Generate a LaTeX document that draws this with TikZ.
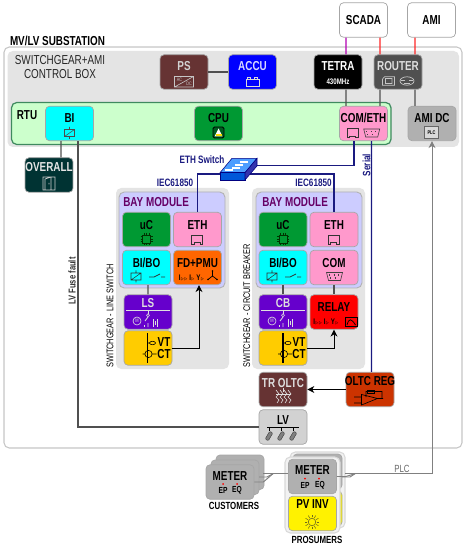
\documentclass[tikz,border=0pt]{standalone}
\usepackage{fontspec}
\setmainfont{Liberation Sans}[FakeStretch=0.76]
\usepackage{xcolor}
\usetikzlibrary{arrows.meta, calc}

\definecolor{boxgrey}{HTML}{E4E4E4}
\definecolor{rtugreen}{HTML}{CCFFCC}
\definecolor{rtuedge}{HTML}{3F8A5F}
\definecolor{cpugreen}{HTML}{009933}
\definecolor{comink}{HTML}{FF99CC}
\definecolor{binaqua}{HTML}{00FFFF}
\definecolor{psbrown}{HTML}{663333}
\definecolor{routerdark}{HTML}{505050}
\definecolor{amigrey}{HTML}{B0B0B0}
\definecolor{overallteal}{HTML}{003333}
\definecolor{baylilac}{HTML}{CCCCFF}
\definecolor{baytitle}{HTML}{660066}
\definecolor{pmuorange}{HTML}{FF6600}
\definecolor{lsviolet}{HTML}{6600CC}
\definecolor{vtyellow}{HTML}{FFCC00}
\definecolor{oltcred}{HTML}{CC3300}
\definecolor{lvgrey}{HTML}{D2D2D2}
\definecolor{netblue}{HTML}{1A1A80}
\newcommand{\trig}{\scalebox{.55}{$\triangleright$}}

\begin{document}
\begin{tikzpicture}[
    x=0.02cm, y=-0.02cm,
    font=\fontsize{7.4}{8.4}\selectfont,
    mod/.style={draw=gray!70, line width=.4pt, rounded corners=2.3pt, minimum width=.96cm, minimum height=.69cm, inner sep=0pt},
    ttl/.style={font=\fontsize{7.4}{8.4}\selectfont\bfseries, inner sep=0pt},
    tiny/.style={font=\fontsize{4.6}{5}\selectfont\bfseries, inner sep=0pt},
    side/.style={font=\fontsize{5.5}{6}\selectfont, inner sep=0pt, rotate=90},
    net/.style={font=\fontsize{6.1}{6}\selectfont\bfseries, inner sep=0pt, text=netblue},
    wire/.style={draw=routerdark, line width=.75pt},
    buswire/.style={draw=netblue, line width=.6pt},
    sensor/.style={draw=black, line width=.5pt, -{Stealth[length=4pt,width=4pt]}},
    plcwire/.style={draw=gray, line width=.55pt},
    pics/relayicon/.style={code={
        \draw[#1, line width=.3pt] (-5,-3.5) rectangle (5,3.5) (-5,3.5) -- (5,-3.5) (0,-6) -- (0,-3.5) (0,3.5) -- (0,6);
    }},
    pics/contacticon/.style={code={
        \draw[#1, line width=.4pt] (-8,1) -- (-3,1) -- (3,-2) (4,1) -- (8,1);
    }},
    pics/rjicon/.style={code={
        \draw[#1, line width=.4pt] (-5.5,-4.5) -- (5.5,-4.5) -- (5.5,4.5) -- (3,4.5) -- (3,3) -- (-3,3) -- (-3,4.5) -- (-5.5,4.5) -- cycle;
    }},
    pics/dbicon/.style={code={
        \draw[#1, line width=.35pt] (-8,-4) -- (8,-4) -- (6,4) -- (-6,4) -- cycle;
        \draw[#1, line width=.6pt, dotted] (-5.5,-1.5) -- (5.5,-1.5) (-4.5,1.5) -- (4.5,1.5);
    }},
    pics/chipicon/.style={code={
        \draw[#1, line width=.35pt] (-4,-4) rectangle (4,4);
        \foreach \p in {-2.5,0,2.5} {
            \draw[#1, line width=.25pt] (\p,-6) -- (\p,-4) (\p,4) -- (\p,6) (-6,\p) -- (-4,\p) (4,\p) -- (6,\p);
        }
    }},
    pics/bayicon/.style={code={
        \draw[#1, line width=.4pt] (-22,-2) -- (22,-2);
        \draw[#1, line width=.5pt] (0,-2) -- (0,2);
        \draw[#1, line width=.3pt] (0,3.2) circle (1.5);
        \draw[#1, line width=.5pt] (0,5) -- (-3,9) (0,11) -- (0,15);
        \draw[#1, line width=.5pt] (-4,13) -- (-4,15) (5,7) -- (5,15) (9,7) -- (9,15) (7,9) -- (7,13);
        \draw[#1, line width=.35pt] (-11,9) circle (4);
        \node[#1, font=\fontsize{3}{3}\selectfont, inner sep=0pt] (-m) at (-11,9) {M};
    }},
    pics/ctblock/.style={code={
        \draw[black, line width=.6pt] (0,-15) -- (0,15);
        \draw[black, line width=.35pt] (0,-5) -- (2,-5) (5,-5) ellipse (3 and 1.7);
        \draw[black, line width=.35pt] (-5,6) -- (-3,6) (1,6) circle (3.6) (4.6,6) -- (9,6);
    }},
    pics/lvfuse/.style={code={
        \draw[black, line width=.3pt] (0,-9) -- (0,-5);
        \draw[black!70, fill=gray, line width=.3pt, rounded corners=.6pt, rotate=-30] (-1.8,-4.5) rectangle (1.8,4.5);
    }},
    pics/meterdots/.style={code={
        \fill[red] (-7,0) circle (1) (7,0) circle (1);
    }},
]
\useasboundingbox (0,0) rectangle (467,546);

% substation frame and control box
\draw[draw=gray!45, fill=white, line width=.6pt, rounded corners=3pt] (4,47) rectangle (462,448);
\fill[boxgrey, rounded corners=3pt] (7.5,51) rectangle (459,147);
\node[ttl] (subtitle) at (57.5,41) {MV/LV SUBSTATION};
\node[ttl, font=\fontsize{7.4}{8}\selectfont, align=center, text=black!85] (boxtitle) at (60,67) {SWITCHGEAR+AMI\\CONTROL BOX};
\draw[rtuedge, fill=rtugreen, line width=.7pt, rounded corners=3pt] (11.5,102.5) rectangle (391,144.5);
\node[ttl] (rtulbl) at (27,115) {RTU};

% bay frames
\fill[boxgrey, rounded corners=3pt] (116,188) rectangle (229,369);
\fill[boxgrey, rounded corners=3pt] (252,188) rectangle (365,369);
\draw[gray!60, fill=baylilac, line width=.5pt, rounded corners=3pt] (119,192) rectangle (225,288);
\draw[gray!60, fill=baylilac, line width=.5pt, rounded corners=3pt] (256,192) rectangle (362,288);

% control box modules
\node[mod, fill=psbrown] (ps) at (184,72) {};
\node[mod, fill=blue] (accu) at (252.5,72) {};
\node[mod, fill=black] (tetra) at (338,72) {};
\node[mod, fill=routerdark] (router) at (398,72) {};
\node[mod, fill=white] (scada) at (363.5,20) {};
\node[mod, fill=white] (ami) at (431.5,20) {};
\node[mod, fill=binaqua] (bi) at (69.5,123.5) {};
\node[mod, fill=cpugreen] (cpu) at (218.5,123.5) {};
\node[mod, fill=comink] (cometh) at (363.5,123.5) {};
\node[mod, fill=amigrey] (amidc) at (432,123.5) {};
\node[mod, fill=overallteal] (overall) at (49,175) {};

% left bay
\node[mod, fill=cpugreen] (ucA) at (146.5,229.5) {};
\node[mod, fill=comink] (ethA) at (197.5,229.5) {};
\node[mod, fill=binaqua] (bioA) at (146.5,267.5) {};
\node[mod, fill=pmuorange] (pmu) at (197.5,267.5) {};
\node[mod, fill=lsviolet] (ls) at (148,312) {};
\node[mod, fill=vtyellow] (vtA) at (148,348) {};

% right bay
\node[mod, fill=cpugreen] (ucB) at (283,229.5) {};
\node[mod, fill=comink] (ethB) at (334,229.5) {};
\node[mod, fill=binaqua] (bioB) at (283,267.5) {};
\node[mod, fill=comink] (comB) at (334,267.5) {};
\node[mod, fill=lsviolet] (cb) at (283,312) {};
\node[mod, fill=red] (relay) at (334,312) {};
\node[mod, fill=vtyellow] (vtB) at (283,348) {};

% transformer row
\node[mod, fill=psbrown] (tr) at (283,389.5) {};
\node[mod, fill=oltcred] (reg) at (370,389.5) {};
\node[mod, fill=lvgrey] (lv) at (283,427) {};

% field devices
\foreach \o in {10,5} {
    \draw[gray!70, fill=amigrey, line width=.4pt, rounded corners=2.3pt] (206+\o,465-\o) rectangle (254+\o,499.5-\o);
}
\node[mod, fill=amigrey] (custm) at (230,482) {};
\draw[gray!30, fill=gray!10, line width=.6pt, rounded corners=3pt] (290,452) rectangle (345,528);
\draw[gray!70, fill=amigrey, line width=.4pt, rounded corners=2.3pt] (293,454) rectangle (342,489);
\draw[gray!70, fill=yellow, line width=.4pt, rounded corners=2.3pt] (293,491) rectangle (342,526);
\draw[gray!30, fill=gray!10, line width=.6pt, rounded corners=3pt] (285,457) rectangle (340,533);
\node[mod, fill=amigrey] (prosm) at (312.5,476.5) {};
\node[mod, fill=yellow] (pvinv) at (312.5,513.5) {};

% ethernet switch corners
\coordinate (swleft) at (220,174);
\coordinate (swmid) at (250,174);
\coordinate (swtop) at (257,165.5);

% connectors
\draw[wire] (ps) -- (accu);
\draw[draw=violet!60!magenta, line width=.6pt] ([xshift=-.35cm]scada.south) -- ([xshift=.16cm]tetra.north);
\draw[draw=red!85, line width=.6pt] ([xshift=.33cm]scada.south) -- ([xshift=-.36cm]router.north);
\draw[draw=red!85, line width=.6pt] ([xshift=-.33cm]ami.south) -- ([xshift=.34cm]router.north);
\draw[wire] ([xshift=.16cm]tetra.south) -- ([xshift=-.35cm]cometh.north);
\draw[wire] ([xshift=-.36cm]router.south) -- ([xshift=.33cm]cometh.north);
\draw[wire] ([xshift=.34cm]router.south) -- ([xshift=-.34cm]amidc.north);
\draw[wire] ([xshift=-.17cm]bi.south) -- ([xshift=.24cm]overall.north);
\draw[wire] ([xshift=.17cm]bi.south) |- (lv.west);
\draw[buswire] ([xshift=-.19cm]cometh.south) |- (swtop);
\draw[buswire] ([xshift=.16cm]cometh.south) -- ([xshift=.03cm]reg.north);
\draw[buswire] (ethA.north) |- (swleft);
\draw[buswire] (ethB.north) |- (swmid);
\draw[wire] ([xshift=.03cm]bioA.south) -- (ls.north);
\draw[wire] (bioB.south) -- (cb.north);
\draw[wire] (comB.south) -- (relay.north);
\draw[sensor] (vtA.east) -| ([xshift=.03cm]pmu.south);
\draw[sensor] (vtB.east) -| (relay.south);
\draw[sensor] (reg.west) -- (tr.east);

% plc fan out
\draw[plcwire] (custm.east) -- ++(9,0) -- (273,473.7);
\draw[plcwire] (259,477) -- (267,477) -- (273,473.7);
\draw[plcwire] (263,473.7) -- (prosm.west |- 0,473.7);
\draw[plcwire] (prosm.east) -- ++(9,0) -- (355,473.7);
\draw[plcwire] (342,477) -- (350,477) -- (355,473.7);
\draw[plcwire, -{Stealth[length=4pt,width=4pt]}] (345,473.7) -| (amidc.south);

% switch body
\filldraw[draw=blue!50!black, fill=blue!55!cyan!70, line width=.3pt] (220,172.7) -- (232,158.3) -- (257,158.3) -- (245,172.7) -- cycle;
\filldraw[draw=blue!50!black, fill=blue!60!cyan!85!black, line width=.3pt] (220,172.7) rectangle (245,180);
\filldraw[draw=blue!50!black, fill=blue!60!black!80, line width=.3pt] (245,172.7) -- (257,158.3) -- (257,166) -- (245,180) -- cycle;
\draw[white, line width=.6pt] (232,168) -- (240,168) (240,162) -- (248,162) (225,170) -- (233,170) (235,165) -- (243,165);

% module titles
\node[ttl, text=gray!35] (pst) at (184,66.5) {PS};
\node[ttl, text=white!85!blue] (accut) at (252.5,66.5) {ACCU};
\node[ttl, text=white] (tetrat) at (338,66.5) {TETRA};
\node[tiny, text=white] (tetraf) at (338,81.5) {430MHz};
\node[ttl, text=gray!25] (routert) at (398,66.5) {ROUTER};
\node[ttl] (scadat) at (363.5,20) {SCADA};
\node[ttl] (amit) at (431.5,20) {AMI};
\node[ttl] (bit) at (69.5,118) {BI};
\node[ttl] (cput) at (218.5,118) {CPU};
\node[ttl] (comethT) at (363.5,118) {COM/ETH};
\node[ttl] (amidct) at (432,118) {AMI DC};
\node[ttl, text=gray!20] (overallt) at (49,167) {OVERALL};
\node[ttl, text=baytitle, anchor=west] (bayA) at (123,202) {BAY MODULE};
\node[ttl, text=baytitle, anchor=west] (bayB) at (262,202) {BAY MODULE};
\node[ttl] (ucAt) at (146.5,225) {uC};
\node[ttl] (ethAt) at (197.5,225) {ETH};
\node[ttl] (bioAt) at (146.5,263) {BI/BO};
\node[ttl] (pmut) at (197.5,263) {FD+PMU};
\node[ttl, text=gray!25] (lst) at (148,303) {LS};
\node[ttl] (vtAv) at (164,342.5) {VT};
\node[ttl] (vtAc) at (164,354.5) {CT};
\node[ttl] (ucBt) at (283,225) {uC};
\node[ttl] (ethBt) at (334,225) {ETH};
\node[ttl] (bioBt) at (283,263) {BI/BO};
\node[ttl] (comBt) at (334,263) {COM};
\node[ttl, text=gray!25] (cbt) at (283,303) {CB};
\node[ttl] (relayt) at (334,307) {RELAY};
\node[ttl] (vtBv) at (299,342.5) {VT};
\node[ttl] (vtBc) at (299,354.5) {CT};
\node[ttl, text=gray!25] (trt) at (283,383) {TR OLTC};
\node[ttl] (regt) at (370,381) {OLTC REG};
\node[ttl] (lvt) at (283,420.5) {LV};
\node[ttl] (custt) at (230,476) {METER};
\node[ttl] (prost) at (312.5,470) {METER};
\node[ttl] (pvt) at (312.5,504) {PV INV};
\node[tiny, font=\fontsize{5}{5}\selectfont\bfseries] (custep) at (223,490) {EP};
\node[tiny, font=\fontsize{5}{5}\selectfont\bfseries] (custeq) at (237,490) {EQ};
\node[tiny, font=\fontsize{5}{5}\selectfont\bfseries] (prosep) at (305,485) {EP};
\node[tiny, font=\fontsize{5}{5}\selectfont\bfseries] (proseq) at (320,485) {EQ};
\node[tiny, font=\fontsize{5.9}{6}\selectfont\bfseries] (custlbl) at (234,506) {CUSTOMERS};
\node[tiny, font=\fontsize{5.9}{6}\selectfont\bfseries] (proslbl) at (317,540) {PROSUMERS};
\node[tiny] (pmuprot) at (191.5,277.5) {I\trig\trig\ I\trig\ Y\trig};
\node[tiny] (relayprot) at (326,322) {I\trig\trig\ I\trig\ Y\trig};

% wire labels
\node[net] (swlbl) at (202,160) {ETH Switch};
\node[net] (iecA) at (175,183) {IEC61850};
\node[net] (iecB) at (313.5,183) {IEC61850};
\node[net, rotate=90] (seriallbl) at (366.5,165) {Serial};
\node[side] (lslbl) at (110,316) {SWITCHGEAR - LINE SWITCH};
\node[side] (cblbl) at (246.7,306) {SWITCHGEAR - CIRCUIT BREAKER};
\node[side, font=\fontsize{5.7}{6}\selectfont\bfseries, text=black!80] (fuselbl) at (72,281) {LV Fuse fault};
\node[font=\fontsize{5.9}{6}\selectfont, inner sep=0pt, text=gray!80!black] (plclbl) at (402,469) {PLC};

% icons
\pic at (69.5,133) {relayicon=black!70};
\pic at (136,276.5) {relayicon=black!80};
\pic at (157,276) {contacticon=black!80};
\pic at (272,276.5) {relayicon=black!80};
\pic at (293,276) {contacticon=black!80};
\pic at (352.7,133) {rjicon=black!80};
\pic at (371.7,133) {dbicon=black!75};
\pic at (197,239.5) {rjicon=black!80};
\pic at (333.5,239.5) {rjicon=black!80};
\pic at (334.5,276.5) {dbicon=black!75};
\pic at (146.5,239) {chipicon=black!60!green!50!black};
\pic at (283,239) {chipicon=black!60!green!50!black};
\pic at (148,312) {bayicon=gray!25};
\pic at (283,312) {bayicon=gray!25};
\pic at (147.5,348) {ctblock};
\pic at (283,348) {ctblock};
\pic at (269,436) {lvfuse};
\pic at (281,436) {lvfuse};
\pic at (293,436) {lvfuse};
\pic at (230,484) {meterdots};
\pic at (312,478.7) {meterdots};

% power supply, battery
\draw[gray!45, line width=.35pt] (174.5,76.5) rectangle (193.5,87) (174.5,87) -- (193.5,76.5);
\node[font=\fontsize{2.8}{3}\selectfont, inner sep=0pt, text=gray!45] (psac) at (179.5,80) {AC};
\node[font=\fontsize{2.8}{3}\selectfont, inner sep=0pt, text=gray!45] (psdc) at (189,84) {DC};
\draw[gray!30, line width=.35pt] (246,79) rectangle (259,86.5) (247.5,79) -- (247.5,77) -- (250.5,77) -- (250.5,79) (254.5,79) -- (254.5,77) -- (257.5,77) -- (257.5,79);
% cpu badge
\draw[black, fill=cpugreen!60!black, line width=.5pt, rounded corners=.8pt] (213,127) rectangle (224,138);
\fill[white] (218.5,128.5) -- (222.5,136.5) -- (214.5,136.5) -- cycle;
\fill[yellow!80!orange] (215.5,134.5) rectangle (221.5,136.5);
% router badges
\draw[gray!45, line width=.35pt] (382.5,79) -- (384.5,76.8) -- (394.5,76.8) -- (394.5,85.2) -- (382.5,85.2) -- cycle (385.5,78.5) rectangle (392,83.5);
\draw[gray!45, line width=.4pt] (407,81) ellipse (7 and 4.2);
\draw[gray!45, line width=.35pt] (401,80.5) -- (405,80.5) (409,80.5) -- (413,80.5) (404,83) -- (410,83);
% door
\draw[gray!40, line width=.4pt] (43,177) rectangle (55,190) (45,179) -- (45,190) (45,179) -- (51,177) -- (51,190) (49,183) -- (49,184.5);
% plc badge
\draw[black!60, fill=gray!30, line width=.7pt] (424.5,126.5) rectangle (438.5,138.5);
\node[font=\fontsize{3}{3}\selectfont\bfseries, inner sep=0pt] (plcbadge) at (431.5,132.5) {PLC};
% star of the pmu
\draw[black, line width=.4pt] (212.5,276) -- (212.5,271) (212.5,276) -- (208,279.5) (212.5,276) -- (217,279.5);
\fill[black] (212.5,271) circle (.9) (208,279.5) circle (.9) (217,279.5) circle (.9) (212.5,276) circle (.7);
% relay curve
\draw[black, line width=.45pt] (345.5,317) rectangle (357,326);
\draw[black, line width=.4pt] (347,325) .. controls (349,318) and (351,318) .. (355.5,325);
% transformer tap coils
\foreach \s in {276,280,284,288} {
    \draw[gray!25, line width=.35pt] (\s,390) -- (\s+3,394) -- (\s,397) -- (\s+3,400) -- (\s+1,403);
}
\draw[gray!25, line width=.35pt] (276,394) -- (291,394) (283.5,388) -- (283.5,392);
% regulator amplifier
\draw[black, line width=.35pt] (361.5,394.5) -- (361.5,405) -- (377.5,398.5) -- cycle (354,397) -- (361.5,397) (354,403) -- (361.5,403) (377.5,398.5) -- (383,398.5) (366,397) -- (366,391.5) -- (382,391.5) -- (382,398.5);
\draw[black, line width=.35pt] (367,390) rectangle (374,393);
% low voltage bus
\draw[black, line width=.4pt] (267,427) -- (299,427);
% sun
\draw[olive!70!black, fill=yellow, line width=.35pt] (312,522) circle (3.8);
\foreach \a in {0,30,...,330} {
    \draw[olive!70!black, line width=.3pt] (312,522) ++(\a:4.8) -- ++(\a:2.6);
}

\end{tikzpicture}
\end{document}
